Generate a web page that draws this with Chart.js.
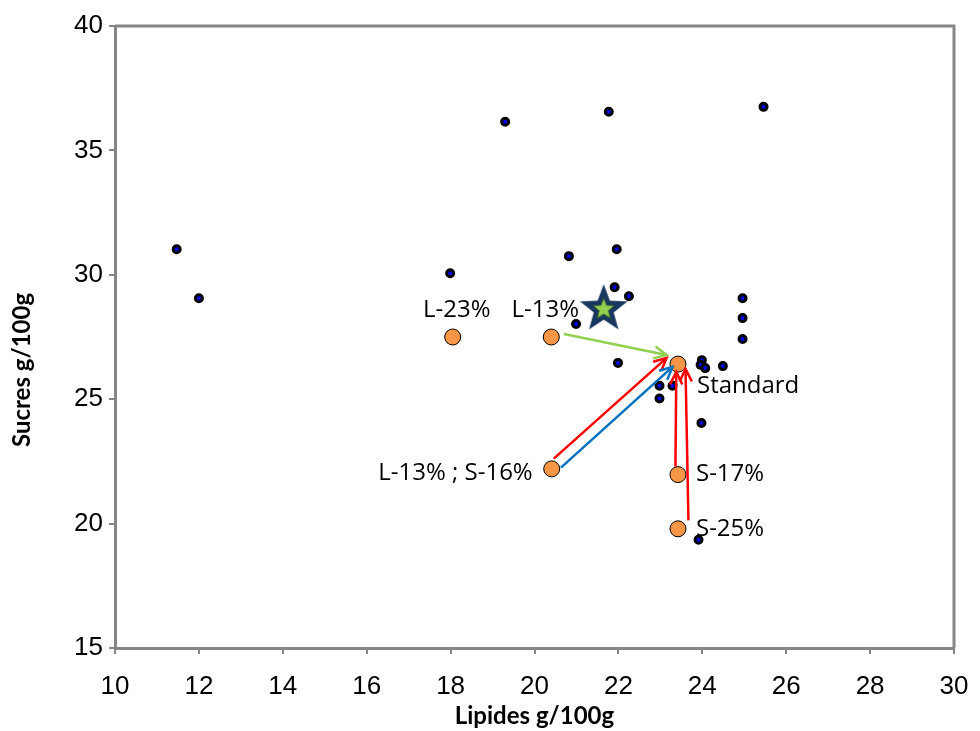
<!DOCTYPE html>
<html>
<head>
<meta charset="utf-8">
<script src="https://cdn.jsdelivr.net/npm/chart.js@4.4.1/dist/chart.umd.min.js"></script>
<style>
  body { margin: 0; background: #fff; }
</style>
</head>
<body>
<canvas id="chart" width="980" height="731"></canvas>
<script>
// products on the market (lipides, sucres)
const marketLipides = [11.47, 12.0, 17.99, 19.3, 21.77, 25.46, 20.82, 21.96, 21.91, 22.25, 20.99, 21.99,
  24.96, 24.96, 24.96, 23.99, 23.96, 24.07, 24.49, 22.98, 23.29, 22.98, 23.98, 23.91];
const marketSucres = [31.03, 29.06, 30.06, 36.15, 36.55, 36.75, 30.75, 31.03, 29.5, 29.14, 28.02, 26.46,
  29.06, 28.26, 27.42, 26.57, 26.38, 26.25, 26.33, 25.54, 25.54, 25.03, 24.04, 19.35];

// reformulated recipes
const recipeNames = ["L-23%", "L-13%", "Standard", "L-13% ; S-16%", "S-17%", "S-25%"];
const recipeLipides = [18.05, 20.4, 23.42, 20.41, 23.42, 23.42];
const recipeSucres = [27.5, 27.5, 26.41, 22.2, 21.97, 19.79];

// target (star)
const targetLipides = [21.65];
const targetSucres = [28.66];

// arrows, in data units
const arrowFromX = [20.7, 20.46, 20.63, 23.36, 23.67];
const arrowFromY = [27.62, 22.61, 22.25, 22.29, 20.13];
const arrowToX = [23.15, 23.15, 23.29, 23.38, 23.6];
const arrowToY = [26.78, 26.66, 26.3, 26.1, 26.22];
const arrowColors = ["#92D050", "#FF0000", "#0070C0", "#FF0000", "#FF0000"];

const xTicks = [10, 12, 14, 16, 18, 20, 22, 24, 26, 28, 30];
const yTicks = [15, 20, 25, 30, 35, 40];

const axisGray = "#868686";

function toPoints(xs, ys) {
  return xs.map((x, i) => ({ x: x, y: ys[i] }));
}

function starPath(ctx, cx, cy, R, r) {
  ctx.beginPath();
  for (let i = 0; i < 10; i++) {
    const a = -Math.PI / 2 + i * Math.PI / 5;
    const rad = i % 2 === 0 ? R : r;
    const px = cx + rad * Math.cos(a), py = cy + rad * Math.sin(a);
    if (i === 0) ctx.moveTo(px, py); else ctx.lineTo(px, py);
  }
  ctx.closePath();
}

function makeStar() {
  const c = document.createElement("canvas");
  c.width = 56; c.height = 56;
  const g = c.getContext("2d");
  starPath(g, 28, 29, 25, 10.5);
  g.fillStyle = "#17375E";
  g.fill();
  starPath(g, 28, 29, 11, 4.8);
  g.fillStyle = "#92D050";
  g.fill();
  g.strokeStyle = "#3A5F2A";
  g.lineWidth = 0.8;
  g.stroke();
  return c;
}

const framePlugin = {
  id: "frame",
  afterDatasetsDraw(chart) {
    const ctx = chart.ctx;
    const a = chart.chartArea;
    const xs = chart.scales.x, ys = chart.scales.y;
    ctx.save();

    // arrows
    for (let i = 0; i < arrowFromX.length; i++) {
      const x0 = xs.getPixelForValue(arrowFromX[i]), y0 = ys.getPixelForValue(arrowFromY[i]);
      const x1 = xs.getPixelForValue(arrowToX[i]), y1 = ys.getPixelForValue(arrowToY[i]);
      const ang = Math.atan2(y1 - y0, x1 - x0);
      ctx.strokeStyle = arrowColors[i];
      ctx.lineWidth = 2.5;
      ctx.beginPath();
      ctx.moveTo(x0, y0);
      ctx.lineTo(x1, y1);
      ctx.stroke();
      const L = 14, spread = 0.45;
      ctx.beginPath();
      ctx.moveTo(x1 - L * Math.cos(ang - spread), y1 - L * Math.sin(ang - spread));
      ctx.lineTo(x1, y1);
      ctx.lineTo(x1 - L * Math.cos(ang + spread), y1 - L * Math.sin(ang + spread));
      ctx.stroke();
    }

    // labels for the recipes
    ctx.fillStyle = "#000";
    ctx.font = "24px 'Open Sans'";
    ctx.textBaseline = "middle";
    const offs = [[4, -27, "center"], [-6, -27, "center"], [19, 22, "left"], [-19, 4, "right"], [18, 0, "left"], [18, 0, "left"]];
    recipeNames.forEach((name, i) => {
      const px = xs.getPixelForValue(recipeLipides[i]) + offs[i][0];
      const py = ys.getPixelForValue(recipeSucres[i]) + offs[i][1];
      ctx.textAlign = offs[i][2];
      ctx.fillText(name, px, py);
    });

    // y axis title
    ctx.font = "bold 24px Lato";
    ctx.textAlign = "center";
    ctx.translate(22, 370);
    ctx.rotate(-Math.PI / 2);
    ctx.fillText("Sucres g/100g", 0, 0);
    ctx.restore();

    // top and right sides of the box
    ctx.save();
    ctx.strokeStyle = axisGray;
    ctx.lineWidth = 3;
    ctx.beginPath();
    ctx.moveTo(a.left, a.top);
    ctx.lineTo(a.right, a.top);
    ctx.lineTo(a.right, a.bottom);
    ctx.stroke();
    ctx.restore();
  }
};

const ctx = document.getElementById("chart").getContext("2d");

new Chart(ctx, {
  type: "scatter",
  data: {
    datasets: [
      {
        label: "Produits",
        data: toPoints(marketLipides, marketSucres),
        backgroundColor: "#0000FF",
        borderColor: "#000000",
        borderWidth: 3,
        pointRadius: 3.5
      },
      {
        label: "Cible",
        data: toPoints(targetLipides, targetSucres),
        pointStyle: makeStar(),
        pointRadius: 25
      },
      {
        label: "Recettes",
        data: toPoints(recipeLipides, recipeSucres),
        backgroundColor: "#F79646",
        borderColor: "#000000",
        borderWidth: 1,
        pointRadius: 8
      }
    ]
  },
  options: {
    responsive: false,
    animation: false,
    layout: { padding: { top: 24, right: 24, left: 0, bottom: 0 } },
    plugins: {
      legend: { display: false },
      tooltip: { enabled: false }
    },
    scales: {
      x: {
        type: "linear",
        min: 10,
        max: 30,
        afterBuildTicks(scale) { scale.ticks = xTicks.map(v => ({ value: v })); },
        afterFit(scale) {
          scale.height = 83;
          scale.paddingLeft = 0;
          scale.paddingRight = 0;
        },
        ticks: {
          color: "#000",
          font: { family: "'Liberation Sans'", size: 26 },
          padding: 17,
          maxRotation: 0
        },
        grid: { drawOnChartArea: false, drawTicks: true, tickLength: 6, color: axisGray, lineWidth: 2 },
        border: { color: axisGray, width: 3 },
        title: {
          display: true,
          text: "Lipides g/100g",
          color: "#000",
          font: { family: "Lato", size: 24, weight: "bold" },
          padding: { top: 0, bottom: 0 }
        }
      },
      y: {
        type: "linear",
        min: 15,
        max: 40,
        afterBuildTicks(scale) { scale.ticks = yTicks.map(v => ({ value: v })); },
        afterFit(scale) {
          scale.width = 115;
          scale.paddingTop = 0;
          scale.paddingBottom = 0;
        },
        ticks: {
          color: "#000",
          font: { family: "'Liberation Sans'", size: 26 },
          padding: 6
        },
        grid: { drawOnChartArea: false, drawTicks: true, tickLength: 6, color: axisGray, lineWidth: 2 },
        border: { color: axisGray, width: 3 }
      }
    }
  },
  plugins: [framePlugin]
});
</script>
</body>
</html>
